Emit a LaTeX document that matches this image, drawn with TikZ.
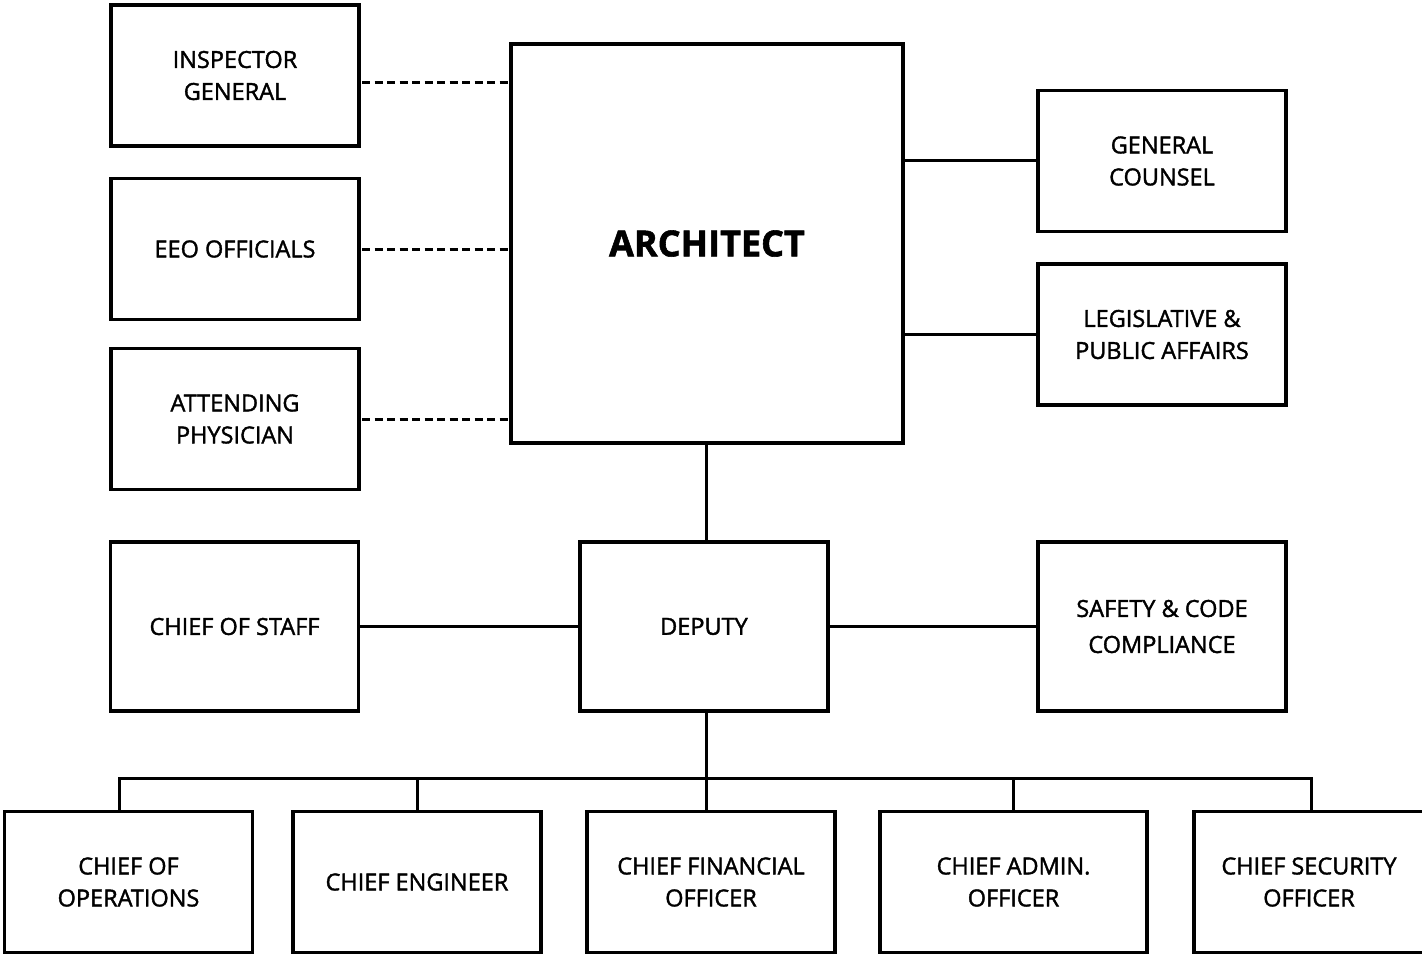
\documentclass[tikz,border=0pt]{standalone}
\usepackage{fontspec}
\setmainfont[FakeBold=1.6]{Open Sans}
\tikzstyle{box}=[draw=black, line width=3.1pt, align=center, inner sep=0pt, minimum width=248pt, minimum height=141pt, font=\fontsize{23.5}{32}\selectfont]
\tikzstyle{tall}=[minimum height=169pt]
\tikzstyle{link}=[line width=3pt]
\tikzstyle{dashlink}=[line width=3pt, dash pattern=on 8pt off 4.5pt]

\begin{document}
\begin{tikzpicture}[x=1pt,y=-1pt]
\useasboundingbox (0,0) rectangle (1422,955);

% left column, dashed to the architect
\node [box] (IG) at (235,75.5) {INSPECTOR\\GENERAL};
\node [box] (EEO) at (235,249) {EEO OFFICIALS};
\node [box] (AP) at (235,419) {ATTENDING\\PHYSICIAN};

\node [box, minimum width=392pt, minimum height=399pt, font=\bfseries\fontsize{36}{40}\selectfont] (AR) at (707,243.5) {ARCHITECT};

\node [box] (GC) at (1162,161) {GENERAL\\COUNSEL};
\node [box] (LPA) at (1162,334.5) {LEGISLATIVE \&\\PUBLIC AFFAIRS};

% middle row
\node [box, tall] (CS) at (234.5,626.5) {CHIEF OF STAFF};
\node [box, tall] (DEP) at (704,626.5) {DEPUTY};
\node [box, tall, font=\fontsize{23.5}{36}\selectfont] (SCC) at (1162,626.5) {SAFETY \& CODE\\COMPLIANCE};

% bottom row
\node [box] (OPS) at (128.5,882) {CHIEF OF\\OPERATIONS};
\node [box] (ENG) at (417,882) {CHIEF ENGINEER};
\node [box] (CFO) at (711,882) {CHIEF FINANCIAL\\OFFICER};
\node [box, minimum width=267pt] (CAO) at (1013.5,882) {CHIEF ADMIN.\\OFFICER};
\node [box, minimum width=230pt] (CSO) at (1309,882) {CHIEF SECURITY\\OFFICER};

\coordinate (bus) at (706,778);
\coordinate (busL) at (119,778);
\coordinate (busR) at (1311,778);

\draw [dashlink] ([xshift=1.5pt]IG.east |- 0,83) -- ([xshift=-1.5pt]AR.west |- 0,83);
\draw [dashlink] ([xshift=1.5pt]EEO.east) -- ([xshift=-1.5pt]AR.west |- EEO.east);
\draw [dashlink] ([xshift=1.5pt]AP.east) -- ([xshift=-1.5pt]AR.west |- AP.east);

\path [link] (GC.west) edge (AR.east |- GC.west)
			(LPA.west) edge (AR.east |- LPA.west);
\draw [link] (AR.south -| bus) -- (DEP.north -| bus);
\path [link] (CS.east) edge (DEP.west) (DEP.east) edge (SCC.west);

\draw [link] (DEP.south -| bus) -- (CFO.north -| bus);
\draw [link] (OPS.north -| busL) -- (busL) -- (busR) -- (CSO.north -| busR);
\foreach \n in {ENG,CAO}
	\draw [link] (\n.north) -- (\n.north |- busL);
\end{tikzpicture}
\end{document}
